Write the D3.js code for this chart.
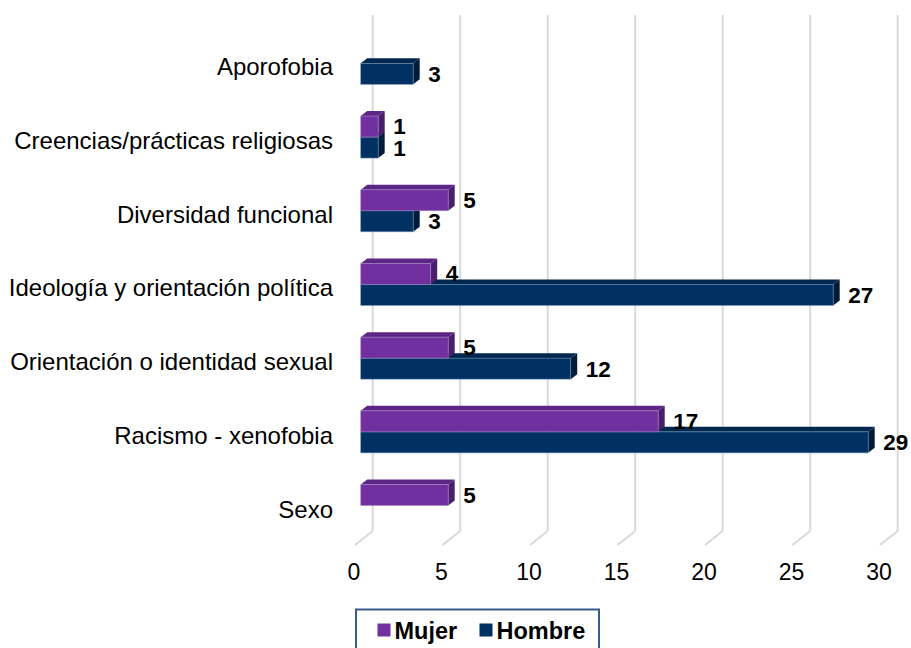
<!DOCTYPE html>
<html>
<head>
<meta charset="utf-8">
<script src="https://cdn.jsdelivr.net/npm/d3@7"></script>
<style>
  html, body { margin: 0; padding: 0; background: #fff; }
  svg { display: block; }
  text { font-family: "Liberation Sans", Arial, sans-serif; fill: #000; }
</style>
</head>
<body>
<div id="chart"></div>
<script>
// ---- data ----
const categories = [
  "Aporofobia",
  "Creencias/prácticas religiosas",
  "Diversidad funcional",
  "Ideología y orientación política",
  "Orientación o identidad sexual",
  "Racismo - xenofobia",
  "Sexo"
];
const mujer  = [null, 1, 5, 4, 5, 17, 5];
const hombre = [3, 1, 3, 27, 12, 29, null];
const xTicks = [0, 5, 10, 15, 20, 25, 30];
const seriesNames = ["Mujer", "Hombre"];

// ---- layout ----
const W = 911, H = 648;
const svg = d3.select("#chart").append("svg").attr("width", W).attr("height", H);

const x = d3.scaleLinear().domain([0, 30]).range([360.7, 885.7]);
const y = d3.scaleBand().domain(categories).range([26.5, 542.4]).padding(0);
const barH = 21;
const dDx = 6.5, dDy = -5;        // bar depth
const backDx = 12;                // back wall offset from bar front
const gridTop = 15, gridBot = 531;
const floorDx = -17.7, floorDy = 14;

const colors = {
  Mujer:  { front: "#7030a0", top: "#5c2686", side: "#4a1e6d", edge: "#a98bc6" },
  Hombre: { front: "#003163", top: "#00284f", side: "#001c3a", edge: "#6f8fb8" }
};

// ---- gridlines (back wall) + floor ----
const grid = svg.append("g");
xTicks.forEach(t => {
  const gx = x(t) + backDx;
  grid.append("line")
    .attr("x1", gx).attr("x2", gx).attr("y1", gridTop).attr("y2", gridBot)
    .attr("stroke", "#d9d9d9").attr("stroke-width", 2);
  grid.append("line")
    .attr("x1", gx).attr("y1", gridBot)
    .attr("x2", gx + floorDx).attr("y2", gridBot + floorDy)
    .attr("stroke", "#d9d9d9").attr("stroke-width", 2);
});

// ---- x axis labels ----
const xAxisScale = x.copy().range(x.range().map(r => r + backDx + floorDx - 1.5));
const xAxis = svg.append("g")
  .attr("transform", `translate(0, ${gridBot + floorDy + 13})`)
  .call(d3.axisBottom(xAxisScale).tickValues(xTicks).tickSize(0).tickPadding(6));
xAxis.select(".domain").remove();
xAxis.selectAll("text")
  .style("font-family", '"Liberation Sans", Arial, sans-serif')
  .style("font-size", "23px").attr("fill", "#000");

// ---- 3D bar ----
function bar3d(g, x0, x1, yTop, c) {
  const yBot = yTop + barH;
  g.append("path")
    .attr("d", `M${x0},${yTop} L${x0 + dDx},${yTop + dDy} L${x1 + dDx},${yTop + dDy} L${x1},${yTop} Z`)
    .attr("fill", c.top);
  g.append("path")
    .attr("d", `M${x1},${yTop} L${x1 + dDx},${yTop + dDy} L${x1 + dDx},${yBot + dDy} L${x1},${yBot} Z`)
    .attr("fill", c.side);
  g.append("rect")
    .attr("x", x0).attr("y", yTop).attr("width", x1 - x0).attr("height", barH)
    .attr("fill", c.front)
    .attr("stroke", c.edge).attr("stroke-width", 0.8).attr("stroke-opacity", 0.7);
}

const bars = svg.append("g");
const labels = svg.append("g");
categories.forEach((cat, i) => {
  const boundary = y(cat) + y.bandwidth() / 2;
  const h = hombre[i], m = mujer[i];
  if (h != null) bar3d(bars, x(0), x(h), boundary, colors.Hombre);
  if (m != null) bar3d(bars, x(0), x(m), boundary - barH, colors.Mujer);
  if (m != null) {
    labels.append("text")
      .attr("x", x(m) + 15).attr("y", boundary - barH / 2 + 7.5)
      .style("font-size", "22.5px").style("font-weight", "bold").text(m);
  }
  if (h != null) {
    labels.append("text")
      .attr("x", x(h) + 15).attr("y", boundary + barH / 2 + 8)
      .style("font-size", "22.5px").style("font-weight", "bold").text(h);
  }
  svg.append("text")
    .attr("x", 333).attr("y", boundary + 12)
    .attr("text-anchor", "end")
    .style("font-size", "24px").text(cat);
});

// ---- legend ----
const lg = svg.append("g");
lg.append("rect")
  .attr("x", 356).attr("y", 609.5).attr("width", 243).attr("height", 60)
  .attr("fill", "#fff").attr("stroke", "#385d8a").attr("stroke-width", 2);
const legX = [377.5, 479.5];
seriesNames.forEach((s, i) => {
  lg.append("rect")
    .attr("x", legX[i]).attr("y", 623.5).attr("width", 13).attr("height", 13)
    .attr("fill", colors[s].front);
  lg.append("text")
    .attr("x", legX[i] + 17).attr("y", 638.5)
    .style("font-size", "23.5px").style("font-weight", "bold").text(s);
});
</script>
</body>
</html>
